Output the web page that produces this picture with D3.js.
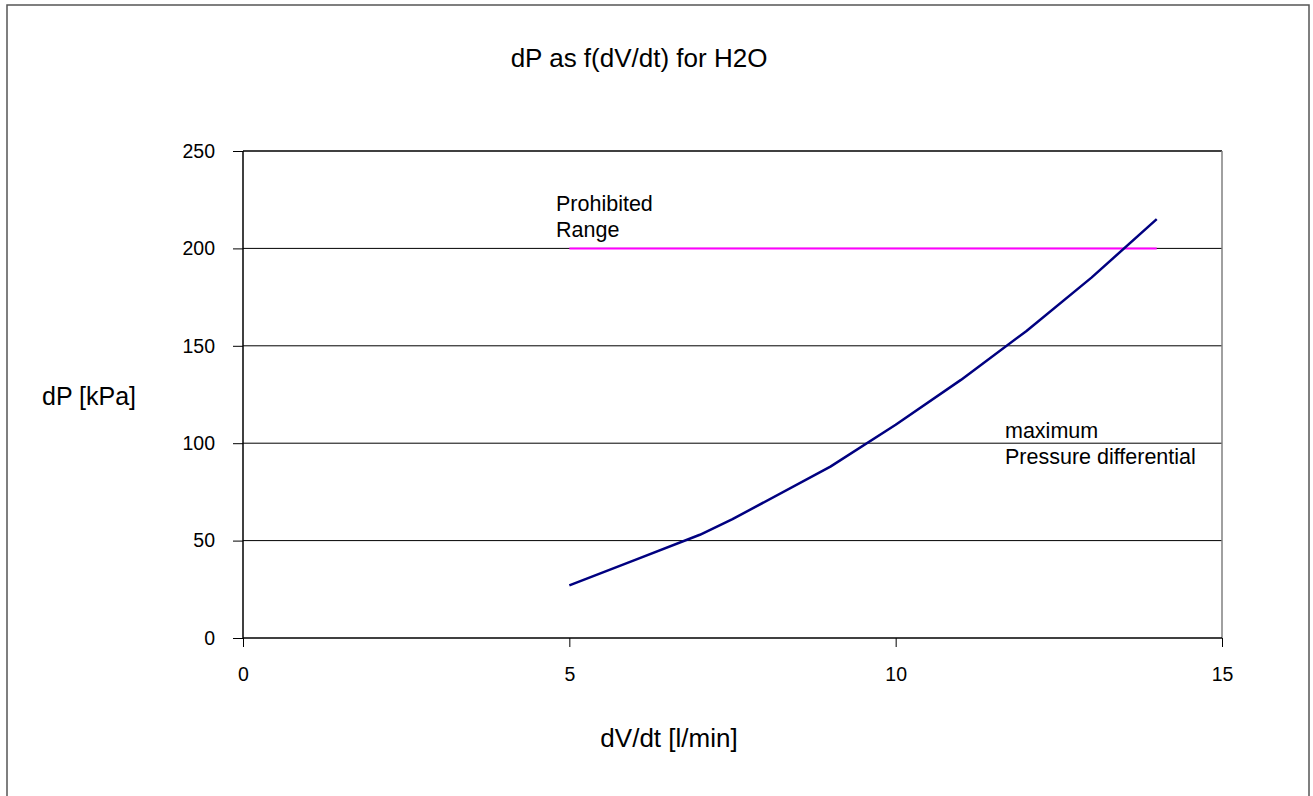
<!DOCTYPE html>
<html>
<head>
<meta charset="utf-8">
<script src="https://cdn.jsdelivr.net/npm/d3@7"></script>
<style>
  body { margin: 0; background: #fff; }
  svg text { font-family: "Liberation Sans", Arial, sans-serif; fill: #000; }
</style>
</head>
<body>
<div id="chart"></div>
<script>
//Datos
const flow = [5, 6, 7, 7.5, 9, 10, 11, 12, 13, 14];
const dP = [27, 40, 53, 61, 88, 109.5, 132.5, 157.5, 185, 215];
const limitFlow = [5, 14];
const limitDP = [200, 200];
const xTicks = [0, 5, 10, 15];
const yTicks = [0, 50, 100, 150, 200, 250];

const W = 1313, H = 796;
let margin = {top: 151, right: 91, bottom: 158, left: 243},
    width = W - margin.left - margin.right,
    height = H - margin.top - margin.bottom;

let svg = d3.select('#chart').append('svg')
    .attr('width', W)
    .attr('height', H);

//Marco exterior
svg.append('rect')
    .attr('x', 7).attr('y', 5)
    .attr('width', 1302).attr('height', 820)
    .attr('fill', 'none')
    .attr('stroke', '#555')
    .attr('stroke-width', 1.5);

let g = svg.append('g')
    .attr('transform', 'translate(' + margin.left + ',' + margin.top + ')');

let x = d3.scaleLinear().domain([0, 15]).range([0, width]);
let y = d3.scaleLinear().domain([0, 250]).range([height, 0]);

//Rejilla
g.append('g')
    .selectAll('line')
    .data(yTicks.filter(function(d) { return d > 0 && d < 250; }))
    .enter()
    .append('line')
    .attr('x1', 0).attr('x2', width)
    .attr('y1', function(d) { return y(d); })
    .attr('y2', function(d) { return y(d); })
    .attr('stroke', '#000')
    .attr('stroke-width', 1);

//Borde del área
g.append('line').attr('x1', 0).attr('x2', width).attr('y1', 0).attr('y2', 0)
    .attr('stroke', '#000').attr('stroke-width', 1.5);
g.append('line').attr('x1', width).attr('x2', width).attr('y1', 0).attr('y2', height)
    .attr('stroke', '#808080').attr('stroke-width', 1.5);

//Ejes
let xAxis = d3.axisBottom(x).tickValues(xTicks).tickSize(9).tickPadding(20);
let yAxis = d3.axisLeft(y).tickValues(yTicks).tickSize(10).tickPadding(18);

g.append('g')
    .attr('transform', 'translate(0,' + height + ')')
    .call(xAxis)
    .call(function(s) {
        s.select('.domain').attr('d', 'M0,0H' + width).attr('stroke', '#000').attr('stroke-width', 1.5);
        s.selectAll('.tick line').attr('stroke', '#000');
        s.selectAll('text').style('font-size', '19.5px').style('font-family', '"Liberation Sans", Arial, sans-serif');
    });

g.append('g')
    .call(yAxis)
    .call(function(s) {
        s.select('.domain').attr('d', 'M0,0V' + height).attr('stroke', '#000').attr('stroke-width', 1.5);
        s.selectAll('.tick line').attr('stroke', '#000');
        s.selectAll('text').attr('x', -28).style('font-size', '19.5px').style('font-family', '"Liberation Sans", Arial, sans-serif');
    });

//Límite
let line = d3.line()
    .x(function(d) { return x(d[0]); })
    .y(function(d) { return y(d[1]); });

g.append('path')
    .datum(d3.zip(limitFlow, limitDP))
    .attr('d', line)
    .attr('fill', 'none')
    .attr('stroke', '#FF00FF')
    .attr('stroke-width', 2);

//Curva
g.append('path')
    .datum(d3.zip(flow, dP))
    .attr('d', line)
    .attr('fill', 'none')
    .attr('stroke', '#000080')
    .attr('stroke-width', 2.5)
    .attr('stroke-linejoin', 'round');

//Textos
svg.append('text')
    .attr('x', 639).attr('y', 67)
    .attr('text-anchor', 'middle')
    .style('font-size', '26px')
    .text('dP as f(dV/dt) for H2O');

svg.append('text')
    .attr('x', 42).attr('y', 405)
    .style('font-size', '25px')
    .text('dP [kPa]');

svg.append('text')
    .attr('x', 669).attr('y', 747)
    .attr('text-anchor', 'middle')
    .style('font-size', '26px')
    .text('dV/dt [l/min]');

let notes = [
    {x: 556, y: 211, lines: ['Prohibited', 'Range']},
    {x: 1005, y: 438, lines: ['maximum', 'Pressure differential']}
];

notes.forEach(function(n) {
    let t = svg.append('text')
        .attr('x', n.x).attr('y', n.y)
        .style('font-size', '21.5px');
    n.lines.forEach(function(l, i) {
        t.append('tspan')
            .attr('x', n.x)
            .attr('dy', i == 0 ? 0 : 26)
            .text(l);
    });
});
</script>
</body>
</html>
